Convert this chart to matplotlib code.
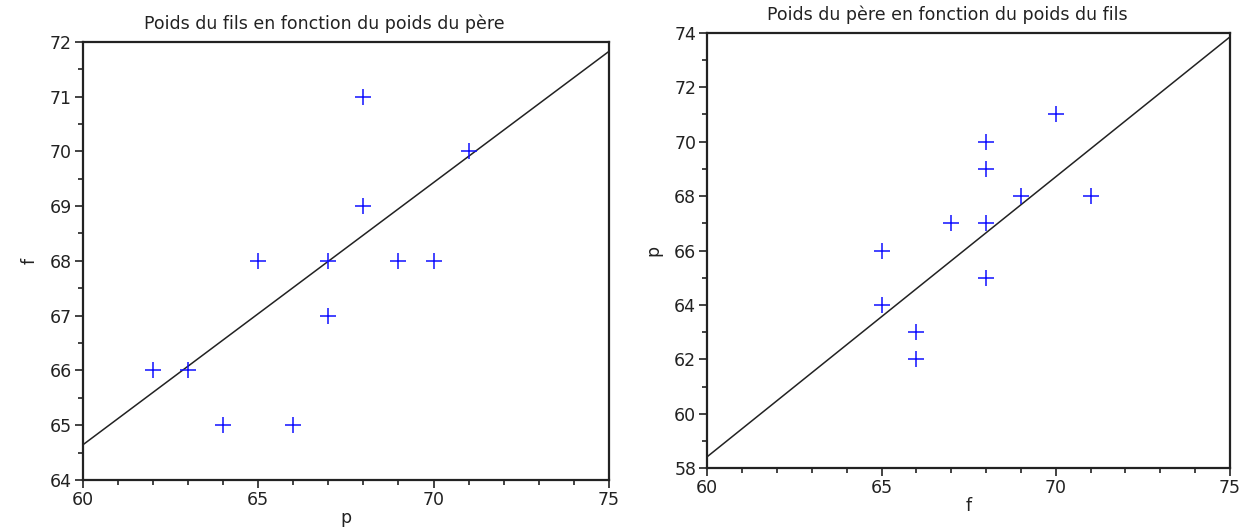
import numpy as np
import matplotlib.pyplot as plt
from matplotlib.ticker import MultipleLocator

# poids du père (p) et poids du fils (f)
p = [62, 63, 64, 65, 66, 67, 67, 68, 68, 69, 70, 71]
f = [66, 66, 65, 68, 65, 68, 67, 71, 69, 68, 68, 70]

# droites d'ajustement (pente, ordonnée à l'origine)
fit_f_on_p = (0.479, 35.9)
fit_p_on_f = (1.028, -3.25)

plt.rcParams['font.family'] = 'DejaVu Sans'

fig = plt.figure(figsize=(12.49, 5.31), dpi=100)
ax1 = fig.add_axes([0.0662, 0.096, 0.4214, 0.8254])
ax2 = fig.add_axes([0.5663, 0.118, 0.4185, 0.8203])


def draw(ax, x, y, fit, ylim, ymaj, ymin, title, xlabel, ylabel, title_x):
    xs = np.linspace(60, 75, 2)
    ax.plot(xs, fit[0] * xs + fit[1], color='#222222', lw=1.1)
    ax.plot(x, y, '+', color='#1010ff', ms=12, mew=1.1, ls='none')
    ax.set_xlim(60, 75)
    ax.set_ylim(*ylim)
    ax.xaxis.set_major_locator(MultipleLocator(5))
    ax.xaxis.set_minor_locator(MultipleLocator(1))
    ax.yaxis.set_major_locator(MultipleLocator(ymaj))
    ax.yaxis.set_minor_locator(MultipleLocator(ymin))
    ax.tick_params(which='both', direction='out', colors='#222222',
                   top=False, right=False, width=1.2)
    ax.tick_params(which='major', length=6, labelsize=12.5, pad=2)
    ax.tick_params(which='minor', length=3.5)
    for s in ax.spines.values():
        s.set_linewidth(1.6)
        s.set_color('#222222')
    ax.set_title(title, fontsize=12.5, x=title_x, pad=9, color='#222222')
    ax.set_xlabel(xlabel, fontsize=12.5, labelpad=0, color='#222222')
    ax.set_ylabel(ylabel, fontsize=12.5, labelpad=8, color='#222222')


draw(ax1, p, f, fit_f_on_p, (64, 72), 1, 0.5,
     'Poids du fils en fonction du poids du père', 'p', 'f', 0.46)
draw(ax2, f, p, fit_p_on_f, (58, 74), 2, 1,
     'Poids du père en fonction du poids du fils', 'f', 'p', 0.46)

fig.savefig('out.png', dpi=100)
